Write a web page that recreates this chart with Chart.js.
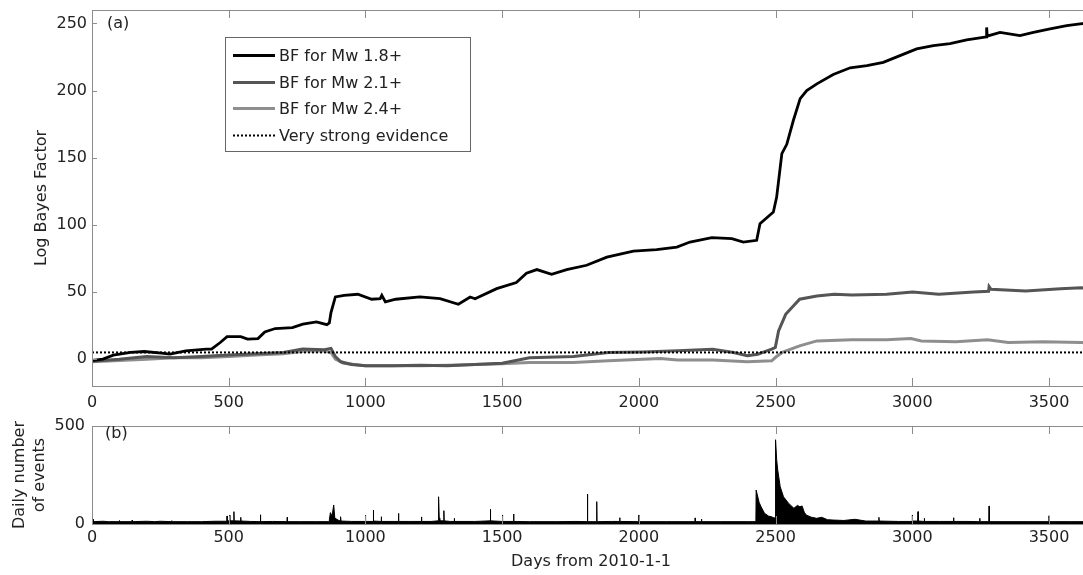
<!DOCTYPE html>
<html lang="en">
<head>
<meta charset="UTF-8">
<title>Log Bayes Factor and daily events</title>
<script src="https://cdn.jsdelivr.net/npm/chart.js"></script>
<style>
  html, body { margin: 0; padding: 0; overflow: hidden; background: #fff; }
  #wrap { position: relative; width: 1083px; height: 575px; overflow: hidden; }
  canvas { position: absolute; left: 0; }
  #bfChart { top: 0; }
  #eventsChart { top: 414px; }
</style>
</head>
<body>
<div id="wrap">
  <canvas id="bfChart" width="1091" height="414"></canvas>
  <canvas id="eventsChart" width="1091" height="161"></canvas>
</div>
<script>
// days from 2010-1-1
const bf18Days = [0, 40, 78, 141, 191, 254, 285, 343, 418, 437,
  469, 494, 544, 569, 607, 632, 670, 733, 771, 821,
  859, 868, 874, 890, 922, 972, 1023, 1054, 1060, 1073,
  1111, 1199, 1273, 1340, 1383, 1401, 1480, 1552, 1589, 1627,
  1681, 1736, 1809, 1883, 1980, 2065, 2139, 2187, 2267, 2340,
  2382, 2431, 2443, 2492, 2504, 2523, 2541, 2565, 2590, 2614,
  2651, 2711, 2773, 2834, 2894, 2955, 3016, 3077, 3138, 3199,
  3271, 3272, 3274, 3321, 3394, 3443, 3504, 3565, 3614, 3650];
const bf18Values = [-1, 0, 3, 5, 5.7, 4.5, 3.8, 6.2, 7.4, 7.4,
  12.4, 16.8, 16.8, 14.9, 15.3, 20.3, 22.8, 23.5, 26, 27.7,
  25.7, 27, 34.7, 46.3, 47.5, 48.3, 44.6, 45, 47.5, 42.6,
  44.6, 46.3, 45.1, 40.9, 46.3, 45, 52.5, 57, 64, 66.7,
  63.2, 66.7, 69.9, 76, 80.5, 81.5, 83.5, 87.2, 90.5, 89.7,
  87.2, 88.5, 100.9, 109.5, 120.7, 153, 160, 177.7, 194, 200,
  205, 212, 217, 218.6, 221, 226, 231, 233.5, 235, 237.7,
  240, 247, 240.5, 243.3, 241, 243.3, 245.9, 248.3, 249.6, 250.5];

const bf21Days = [0, 100, 200, 300, 400, 500, 600, 700, 770, 850,
  874, 890, 910, 950, 1000, 1100, 1200, 1300, 1400, 1500,
  1600, 1761, 1888, 2015, 2142, 2270, 2346, 2397, 2435, 2486,
  2499, 2511, 2537, 2588, 2651, 2715, 2779, 2906, 3001, 3097,
  3224, 3279, 3281, 3288, 3415, 3542, 3618, 3650];
const bf21Values = [-1.5, 0, 2, 1, 2, 3, 4, 5, 7.5, 7,
  8, 2, -2, -4, -5, -5, -4.5, -5, -4, -3,
  1, 2, 5, 5.4, 6.2, 7.4, 5, 2.5, 3.7, 7.4,
  8.7, 21, 33.4, 44.6, 47, 48.3, 47.8, 48.3, 50, 48.3,
  50, 50.5, 54, 52, 50.7, 52.5, 53.2, 52.5];

const bf24Days = [0, 100, 200, 300, 400, 500, 600, 700, 780, 850,
  874, 890, 920, 1000, 1100, 1200, 1300, 1400, 1500, 1600,
  1761, 1888, 2015, 2079, 2142, 2270, 2397, 2486, 2499, 2524,
  2588, 2651, 2779, 2906, 2995, 3033, 3160, 3275, 3351, 3478,
  3618, 3650];
const bf24Values = [-2, -1, 0, 1, 1, 2, 3, 4, 6, 6,
  5, 0, -3, -5, -5, -5, -4.5, -4, -3.5, -2.5,
  -2.5, -1.2, 0, 0.5, -0.7, -0.7, -2, -1.2, 1.2, 5,
  9.9, 13.6, 14.4, 14.4, 15.3, 13.6, 12.9, 14.4, 12.4, 12.9,
  12.4, 12];

const evidenceLevel = 5;
const dayRange = [0, 3650];

const eventDays = [0, 4, 5, 6, 40, 60, 99, 100, 101, 146,
  147, 148, 200, 230, 250, 291, 292, 293, 350, 400,
  450, 490, 493, 494, 495, 503, 504, 505, 518, 519,
  520, 543, 544, 545, 580, 615, 616, 617, 660, 713,
  714, 715, 760, 820, 867, 868, 872, 878, 884, 888,
  900, 908, 909, 911, 950, 999, 1000, 1001, 1028, 1029,
  1030, 1057, 1058, 1059, 1090, 1120, 1121, 1122, 1160, 1204,
  1205, 1206, 1240, 1266, 1267, 1268, 1270, 1272, 1286, 1287,
  1288, 1310, 1324, 1325, 1326, 1400, 1456, 1457, 1458, 1500,
  1501, 1502, 1541, 1542, 1543, 1600, 1700, 1770, 1811, 1812,
  1813, 1845, 1846, 1847, 1900, 1929, 1930, 1931, 1999, 2000,
  2001, 2100, 2205, 2206, 2207, 2228, 2229, 2230, 2300, 2400,
  2428, 2429, 2440, 2447, 2460, 2475, 2485, 2495, 2499, 2500,
  2504, 2508, 2517, 2529, 2548, 2567, 2580, 2589, 2597, 2605,
  2612, 2630, 2650, 2669, 2690, 2713, 2750, 2790, 2830, 2877,
  2878, 2879, 2950, 2999, 3000, 3001, 3020, 3021, 3022, 3043,
  3044, 3045, 3100, 3150, 3151, 3152, 3200, 3246, 3247, 3248,
  3280, 3281, 3282, 3350, 3420, 3499, 3500, 3501, 3580, 3650];
const eventCounts = [12, 12, 24, 12, 14, 12, 12, 18, 12, 12,
  20, 12, 14, 12, 14, 12, 17, 12, 12, 12,
  14, 14, 14, 41, 16, 16, 46, 16, 16, 63,
  16, 15, 34, 15, 13, 12, 47, 12, 13, 12,
  34, 12, 12, 12, 12, 22, 58, 40, 97, 30,
  20, 15, 37, 15, 13, 13, 44, 13, 13, 71,
  15, 13, 37, 13, 13, 13, 54, 13, 13, 13,
  36, 13, 13, 16, 30, 139, 30, 16, 16, 68,
  16, 13, 13, 29, 13, 13, 16, 75, 16, 13,
  46, 13, 13, 51, 13, 12, 12, 13, 12, 153,
  12, 12, 114, 12, 13, 13, 32, 13, 12, 46,
  12, 12, 12, 31, 12, 12, 25, 12, 12, 12,
  12, 173, 110, 88, 54, 40, 37, 30, 35, 430,
  330, 275, 190, 139, 105, 80, 95, 88, 92, 60,
  46, 35, 29, 34, 22, 20, 18, 24, 15, 15,
  34, 15, 13, 13, 46, 15, 15, 63, 15, 13,
  29, 13, 13, 13, 32, 13, 13, 12, 29, 12,
  12, 92, 12, 12, 12, 12, 42, 12, 12, 12];

const dayTicks = [0, 500, 1000, 1500, 2000, 2500, 3000, 3500];
const bfTicks = [0, 50, 100, 150, 200, 250];
const eventTicks = [0, 500];

const FONT = '"DejaVu Sans", sans-serif';
const AXIS_GREY = '#8c8c8c';
const TEXT = '#222';

function pairs(xs, ys) {
  return xs.map((d, i) => ({ x: d, y: ys[i] }));
}

// matlab style box with inward ticks and a panel tag
const framePlugin = {
  id: 'frame',
  afterDraw(chart, args, opts) {
    const { ctx, chartArea: a, scales } = chart;
    ctx.save();
    ctx.strokeStyle = AXIS_GREY;
    ctx.lineWidth = 1;
    ctx.strokeRect(Math.round(a.left) + 0.5, Math.round(a.top) + 0.5, a.width, a.height);
    ctx.beginPath();
    scales.x.ticks.forEach(t => {
      const px = Math.round(scales.x.getPixelForValue(t.value)) + 0.5;
      ctx.moveTo(px, a.bottom); ctx.lineTo(px, a.bottom - opts.xTick);
      ctx.moveTo(px, a.top); ctx.lineTo(px, a.top + opts.xTick);
    });
    scales.y.ticks.forEach(t => {
      const py = Math.round(scales.y.getPixelForValue(t.value)) + 0.5;
      ctx.moveTo(a.left, py); ctx.lineTo(a.left + opts.yTick, py);
    });
    ctx.stroke();
    ctx.fillStyle = TEXT;
    ctx.font = '16px ' + FONT;
    ctx.textBaseline = 'middle';
    ctx.fillText(opts.tag, a.left + opts.tagX, a.top + opts.tagY);
    ctx.restore();
  }
};

const legendOrder = [0, 1, 2, 3];
const boxLegendPlugin = {
  id: 'boxLegend',
  afterDraw(chart) {
    const { ctx, chartArea: a } = chart;
    const x0 = a.left + 133, y0 = a.top + 27, w = 245, h = 114;
    ctx.save();
    ctx.fillStyle = '#fff';
    ctx.fillRect(x0, y0, w, h);
    ctx.strokeStyle = '#666';
    ctx.lineWidth = 1;
    ctx.strokeRect(x0 + 0.5, y0 + 0.5, w, h);
    ctx.font = '16px ' + FONT;
    ctx.textBaseline = 'middle';
    legendOrder.forEach((idx, i) => {
      const ds = chart.data.datasets[idx];
      const cy = Math.round(y0 + 18 + i * 26.7) + 0.5;
      ctx.beginPath();
      ctx.setLineDash(ds.borderDash || []);
      ctx.strokeStyle = ds.borderColor;
      ctx.lineWidth = ds.borderWidth;
      ctx.moveTo(x0 + 8, cy);
      ctx.lineTo(x0 + 50, cy);
      ctx.stroke();
      ctx.setLineDash([]);
      ctx.fillStyle = TEXT;
      ctx.fillText(ds.label, x0 + 54, cy + 1);
    });
    ctx.restore();
  }
};

function fixedTicks(values) {
  return scale => { scale.ticks = values.map(v => ({ value: v })); };
}
// keep the plot box where the figure has it
function fitY(width) {
  return s => { s.width = width; s.paddingTop = 0; s.paddingBottom = 0; };
}
function fitX(height) {
  return s => { s.height = height; s.paddingLeft = 0; s.paddingRight = 0; };
}

const tickFont = { family: FONT, size: 16 };
const plainLabel = v => String(v);

new Chart(document.getElementById('bfChart'), {
  type: 'line',
  data: {
    datasets: [
      { label: 'BF for Mw 1.8+', data: pairs(bf18Days, bf18Values), borderColor: '#000', borderWidth: 2.8, order: 0 },
      { label: 'BF for Mw 2.1+', data: pairs(bf21Days, bf21Values), borderColor: '#555', borderWidth: 3, order: 2 },
      { label: 'BF for Mw 2.4+', data: pairs(bf24Days, bf24Values), borderColor: '#8e8e8e', borderWidth: 3, order: 3 },
      { label: 'Very strong evidence', data: pairs(dayRange, [evidenceLevel, evidenceLevel]), borderColor: '#000', borderWidth: 2, borderDash: [2, 2], order: 1 }
    ]
  },
  options: {
    responsive: false,
    animation: false,
    layout: { padding: { top: 10, right: 1, left: 0, bottom: 0 } },
    elements: { point: { radius: 0 }, line: { tension: 0 } },
    plugins: {
      legend: { display: false },
      tooltip: { enabled: false },
      frame: { xTick: 8, yTick: 5, tag: '(a)', tagX: 15, tagY: 14 }
    },
    scales: {
      x: {
        type: 'linear', min: dayRange[0], max: dayRange[1],
        afterBuildTicks: fixedTicks(dayTicks),
        afterFit: fitX(28),
        grid: { display: false, drawTicks: false },
        border: { display: false },
        ticks: { font: tickFont, color: TEXT, padding: 7, maxRotation: 0, callback: plainLabel }
      },
      y: {
        min: -20, max: 260,
        afterBuildTicks: fixedTicks(bfTicks),
        afterFit: fitY(92),
        grid: { display: false, drawTicks: false },
        border: { display: false },
        ticks: { font: tickFont, color: TEXT, padding: 5, callback: plainLabel },
        title: { display: true, text: 'Log Bayes Factor', font: tickFont, color: TEXT, padding: { top: 32, bottom: 0 } }
      }
    }
  },
  plugins: [framePlugin, boxLegendPlugin]
});

new Chart(document.getElementById('eventsChart'), {
  type: 'line',
  data: {
    datasets: [
      { label: 'Daily number of events', data: pairs(eventDays, eventCounts), borderColor: '#000', backgroundColor: '#000', borderWidth: 1, fill: 'origin' }
    ]
  },
  options: {
    responsive: false,
    animation: false,
    layout: { padding: { top: 12, right: 1, left: 0, bottom: 0 } },
    elements: { point: { radius: 0 }, line: { tension: 0 } },
    plugins: {
      legend: { display: false },
      tooltip: { enabled: false },
      frame: { xTick: 8, yTick: 5, tag: '(b)', tagX: 13, tagY: 8 }
    },
    scales: {
      x: {
        type: 'linear', min: dayRange[0], max: dayRange[1],
        afterBuildTicks: fixedTicks(dayTicks),
        afterFit: fitX(51),
        grid: { display: false, drawTicks: false },
        border: { display: false },
        ticks: { font: tickFont, color: TEXT, padding: 4, maxRotation: 0, callback: plainLabel },
        title: { display: true, text: 'Days from 2010-1-1', font: tickFont, color: TEXT, padding: { top: 0, bottom: 4 } }
      },
      y: {
        min: 0, max: 500,
        afterBuildTicks: fixedTicks(eventTicks),
        afterFit: fitY(92),
        grid: { display: false, drawTicks: false },
        border: { display: false },
        ticks: { font: tickFont, color: TEXT, padding: 7, callback: plainLabel },
        title: { display: true, text: ['Daily number', 'of events'], font: { family: FONT, size: 16, lineHeight: 1.3 }, color: TEXT, padding: { top: 9, bottom: 0 } }
      }
    }
  },
  plugins: [framePlugin]
});
</script>
</body>
</html>
